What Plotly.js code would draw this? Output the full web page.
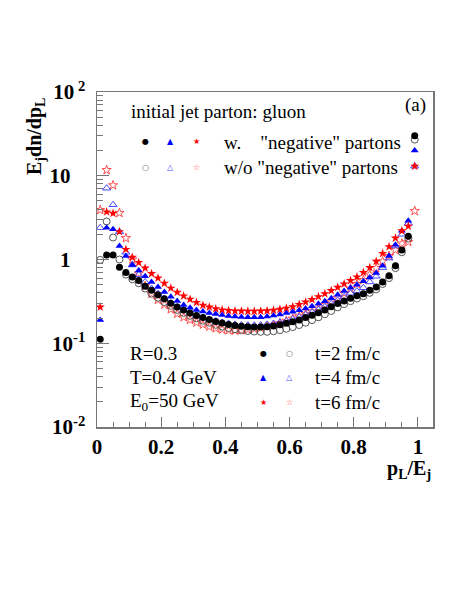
<!DOCTYPE html>
<html><head><meta charset="utf-8">
<script src="https://cdn.plot.ly/plotly-3.0.1.min.js"></script>
<style>html,body{margin:0;padding:0;background:#fff;}#chart{width:463px;height:599px;}</style>
</head><body><div id="chart"></div>
<script>
// x positions (p_L/E_j bin centres)
const xBins = [0.01,0.03,0.05,0.07,0.09,0.11,0.13,0.15,0.17,0.19,0.21,0.23,0.25,0.27,0.29,0.31,0.33,0.35,0.37,0.39,
0.41,0.43,0.45,0.47,0.49,0.51,0.53,0.55,0.57,0.59,0.61,0.63,0.65,0.67,0.69,0.71,0.73,0.75,0.77,0.79,
0.81,0.83,0.85,0.87,0.89,0.91,0.93,0.95,0.97,0.99];

// t=2 fm/c, with "negative" partons
const t2With = [0.112,1.13,1.13,0.81,0.70,0.62,0.56,0.48,0.43,0.38,0.34,0.30,0.27,0.25,0.23,0.215,0.203,0.192,0.182,0.175,
0.168,0.163,0.160,0.157,0.156,0.156,0.157,0.161,0.166,0.173,0.180,0.190,0.203,0.216,0.232,0.250,0.272,0.298,0.320,0.345,
0.370,0.390,0.430,0.470,0.540,0.640,0.840,1.30,1.90,30];
// t=2 fm/c, without "negative" partons
const t2Without = [0.99,2.85,1.83,1.00,0.66,0.58,0.52,0.45,0.39,0.35,0.31,0.28,0.25,0.23,0.212,0.198,0.186,0.176,0.166,0.158,
0.152,0.147,0.143,0.140,0.138,0.137,0.137,0.139,0.143,0.149,0.156,0.165,0.176,0.189,0.204,0.222,0.243,0.268,0.293,0.318,
0.342,0.365,0.400,0.440,0.510,0.600,0.790,1.22,1.78,27];
// t=4 fm/c, with
const t4With = [0.19,2.4,2.3,1.45,1.10,0.86,0.74,0.63,0.54,0.47,0.41,0.36,0.32,0.287,0.266,0.250,0.239,0.230,0.223,0.217,
0.212,0.208,0.206,0.204,0.204,0.205,0.208,0.214,0.221,0.229,0.238,0.248,0.260,0.277,0.297,0.318,0.345,0.380,0.420,0.460,
0.500,0.550,0.610,0.690,0.840,1.10,1.50,2.20,2.90,20];
// t=4 fm/c, without
const t4Without = [2.4,7.1,4.5,2.15,1.22,0.86,0.66,0.54,0.45,0.39,0.34,0.30,0.27,0.248,0.230,0.215,0.203,0.193,0.184,0.177,
0.172,0.168,0.165,0.164,0.164,0.165,0.168,0.172,0.178,0.186,0.195,0.206,0.219,0.234,0.252,0.272,0.296,0.325,0.360,0.395,
0.420,0.460,0.540,0.630,0.800,1.04,1.45,2.00,2.70,13];
// t=6 fm/c, with
const t6With = [0.27,3.7,3.56,2.15,1.32,1.06,0.92,0.79,0.68,0.60,0.52,0.455,0.405,0.367,0.335,0.307,0.284,0.270,0.258,0.250,
0.246,0.243,0.242,0.241,0.241,0.242,0.244,0.248,0.254,0.262,0.273,0.290,0.310,0.332,0.360,0.390,0.425,0.465,0.510,0.560,
0.620,0.700,0.800,0.950,1.18,1.42,1.80,2.20,2.50,13];
// t=6 fm/c, without
const t6Without = [3.9,11.7,7.7,3.6,1.8,1.0,0.68,0.48,0.39,0.33,0.29,0.255,0.225,0.205,0.190,0.177,0.167,0.158,0.151,0.146,
0.143,0.142,0.143,0.146,0.149,0.153,0.158,0.165,0.174,0.185,0.197,0.210,0.224,0.240,0.260,0.285,0.315,0.350,0.395,0.450,
0.510,0.570,0.660,0.790,0.950,1.10,1.30,1.55,1.62,3.8];

const xTickVals = [0,0.2,0.4,0.6,0.8,1];
const xTickText = ['0','0.2','0.4','0.6','0.8','1'];
const yTickVals = [0.01,0.1,1,10,100];
const NB = '\u00a0';
const yTickText = ['10<sup>-2</sup>','10<sup>-1</sup>','1<sup>'+NB+NB+NB+NB+'</sup>','10<sup>'+NB+NB+NB+NB+'</sup>','10<sup>'+NB+'2</sup>'];

const SERIF = 'Liberation Serif, Times New Roman, serif';

function tr(y, sym, color, size, open){
  return {x:xBins, y:y, type:'scatter', mode:'markers', showlegend:false, hoverinfo:'skip',
    marker:{symbol:sym, size:size, color:color, line:{color:color, width: open ? 1 : 0}}};
}
const data = [
  tr(t6Without,'star-open','#ff5050',7,true),
  tr(t4Without,'triangle-up-open','#4848ff',7,true),
  tr(t2Without,'circle-open','#555555',7,true),
  tr(t2With,'circle','#000000',7,false),
  tr(t4With,'triangle-up','#0000ff',7,false),
  tr(t6With,'star','#ff0000',7,false)
];

function px(x){return (x-97)/336;}
function py(y){return (427-y)/335;}
function txt(t,x,y,xa,size,extra){
  return Object.assign({text:t,xref:'paper',yref:'paper',x:px(x),y:py(y),xanchor:xa,yanchor:'middle',
    showarrow:false,font:{family:SERIF,size:size||19,color:'#000'}},extra||{});
}
function mk(ch,x,y,color){
  return {text:ch,xref:'paper',yref:'paper',x:px(x),y:py(y),xanchor:'center',yanchor:'middle',
    showarrow:false,font:{family:'DejaVu Sans',size:8,color:color}};
}
const annotations = [
  txt('initial jet parton: gluon',129,112,'left',19),
  txt('(a)',428,105,'right',19),
  txt('w.'+NB+NB+NB+' "negative" partons',222,142,'left',19),
  txt('w/o "negative" partons',222,167,'left',19),
  mk('\u25CF',145,141,'#000'), mk('\u25B2',170,141,'#0000ff'), mk('\u2605',196,141,'#ff0000'),
  mk('\u25CB',145,167,'#555'), mk('\u25B3',170,167,'#5050ff'), mk('\u2606',196,167,'#ff4040'),
  txt('R=0.3',128,353,'left',19),
  txt('T=0.4 GeV',128,377,'left',19),
  txt('E<sub>0</sub>=50 GeV',128,402,'left',19),
  mk('\u25CF',263,353,'#000'), mk('\u25CB',289,353,'#555'),
  mk('\u25B2',263,377,'#0000ff'), mk('\u25B3',289,377,'#5050ff'),
  mk('\u2605',263,402,'#ff0000'), mk('\u2606',289,402,'#ff4040'),
  txt('t=2 fm/c',313,353,'left',19),
  txt('t=4 fm/c',313,377,'left',19),
  txt('t=6 fm/c',313,402,'left',19),
  txt('<b>E<sub>j</sub>dn/dp<sub>L</sub></b>',35,137,'center',20,{textangle:-90}),
  txt('<b>p<sub>L</sub>/E<sub>j</sub></b>',433,470,'right',20)
];

const layout = {
  width:463, height:599,
  margin:{l:97, r:30, t:92, b:172},
  paper_bgcolor:'#fff', plot_bgcolor:'#fff',
  showlegend:false,
  xaxis:{range:[0,1.047], tickvals:xTickVals, ticktext:xTickText, ticks:'inside', ticklen:10,
    tickcolor:'#777', tickwidth:1, showgrid:false, zeroline:false, showline:true, mirror:true,
    linecolor:'#777', linewidth:1.5,
    tickfont:{family:SERIF, size:21, color:'#000', weight:'bold'},
    minor:{dtick:0.05, ticks:'inside', ticklen:5, tickcolor:'#777', showgrid:false}},
  yaxis:{type:'log', range:[-2,2], tickvals:yTickVals, ticktext:yTickText, ticks:'inside', ticklen:12,
    tickcolor:'#777', tickwidth:1, showgrid:false, zeroline:false, showline:true, mirror:true,
    linecolor:'#777', linewidth:1.5, ticklabelstandoff:6,
    tickfont:{family:SERIF, size:21, color:'#000', weight:'bold'},
    minor:{dtick:'D1', ticks:'inside', ticklen:6, tickcolor:'#777', showgrid:false}},
  annotations:annotations
};
Plotly.newPlot('chart', data, layout, {displayModeBar:false, staticPlot:true});
</script></body></html>
